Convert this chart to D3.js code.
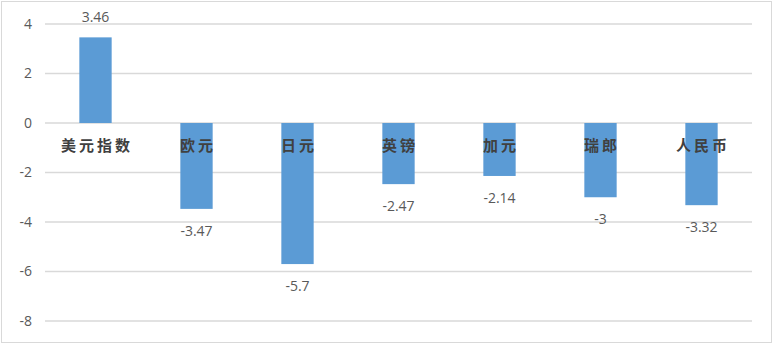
<!DOCTYPE html>
<html>
<head>
<meta charset="utf-8">
<script src="https://cdn.jsdelivr.net/npm/d3@7"></script>
<style>
  body { margin: 0; background: #fff; }
</style>
</head>
<body>
<div id="chart"></div>
<script>
// currencies and their change (%)
var categories = ["美元指数", "欧元", "日元", "英镑", "加元", "瑞郎", "人民币"];
var values = [3.46, -3.47, -5.7, -2.47, -2.14, -3, -3.32];
var yTicks = [-8, -6, -4, -2, 0, 2, 4];

var width = 774, height = 345;
var margin = { top: 24, right: 22, bottom: 24, left: 45 };

var svg = d3.select("#chart")
  .append("svg")
  .attr("width", width)
  .attr("height", height);

// outer frame
svg.append("rect")
  .attr("x", 1.5).attr("y", 1.5)
  .attr("width", width - 4).attr("height", height - 4)
  .attr("fill", "#fff")
  .attr("stroke", "#d9d9d9")
  .attr("stroke-width", 1);

var x = d3.scaleBand()
  .domain(categories)
  .range([margin.left, width - margin.right])
  .paddingInner(0.68)
  .paddingOuter(0.34);

var y = d3.scaleLinear()
  .domain([-8, 4])
  .range([321, 24]);

/** gridlines */
svg.append("g")
  .selectAll("line")
  .data(yTicks)
  .join("line")
  .attr("x1", margin.left)
  .attr("x2", width - margin.right)
  .attr("y1", function(d) { return y(d); })
  .attr("y2", function(d) { return y(d); })
  .attr("stroke", "#d9d9d9")
  .attr("stroke-width", 1.3);

/** y axis labels */
var yAxis = d3.axisLeft(y)
  .tickValues(yTicks)
  .tickSize(0)
  .tickPadding(0)
  .tickFormat(function(d) { return d < 0 ? "-" + Math.abs(d) : d; });
var gy = svg.append("g")
  .attr("transform", "translate(32,0)")
  .call(yAxis);
gy.select(".domain").remove();
gy.selectAll("text")
  .attr("fill", "#595959")
  .style("font-family", "'Open Sans', 'Liberation Sans', sans-serif")
  .style("font-size", "14px");

/** bars */
svg.append("g")
  .selectAll("rect")
  .data(values)
  .join("rect")
  .attr("x", function(d, i) { return x(categories[i]); })
  .attr("width", x.bandwidth())
  .attr("y", function(d) { return y(Math.max(0, d)); })
  .attr("height", function(d) { return Math.abs(y(d) - y(0)); })
  .attr("fill", "#5b9bd5");

/** value labels */
svg.append("g")
  .selectAll("text")
  .data(values)
  .join("text")
  .attr("x", function(d, i) { return x(categories[i]) + x.bandwidth() / 2; })
  .attr("y", function(d) { return d >= 0 ? y(d) - 15 : y(d) + 27; })
  .attr("text-anchor", "middle")
  .attr("fill", "#595959")
  .style("font-family", "'Open Sans', 'Liberation Sans', sans-serif")
  .style("font-size", "14px")
  .text(function(d) { return d < 0 ? "-" + Math.abs(d) : d; });

/** category labels, drawn over the bars */
svg.append("g")
  .selectAll("text")
  .data(categories)
  .join("text")
  .attr("x", function(d) { return x(d) + x.bandwidth() / 2 + 1.5; })
  .attr("y", y(0) + 28)
  .attr("text-anchor", "middle")
  .attr("fill", "#404040")
  .style("font-family", "'Noto Sans CJK SC', sans-serif")
  .style("font-weight", "bold")
  .style("font-size", "15px")
  .style("letter-spacing", "3px")
  .text(function(d) { return d; });
</script>
</body>
</html>
